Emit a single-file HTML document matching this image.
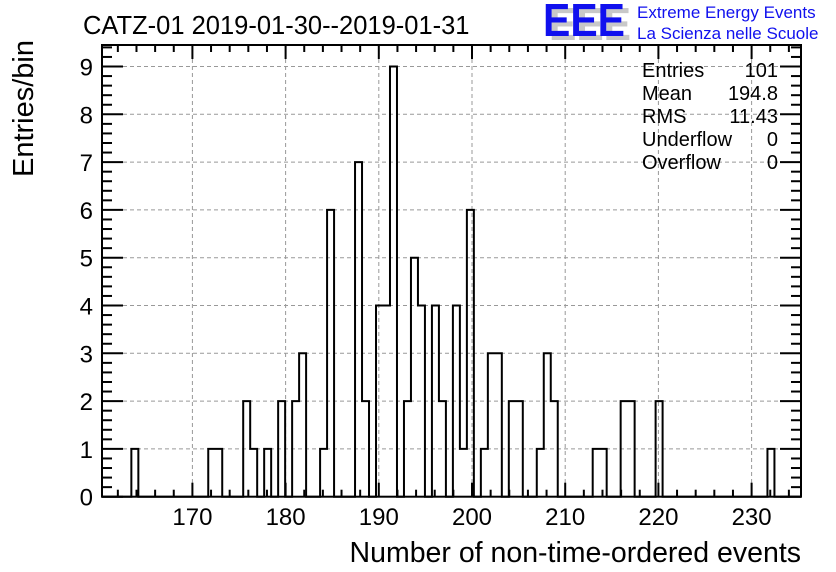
<!DOCTYPE html>
<html><head><meta charset="utf-8"><style>
body{margin:0;background:#fff;}
svg{display:block;font-family:"Liberation Sans",Arial,sans-serif;}
</style></head><body>
<svg id="chart" width="836" height="572" viewBox="0 0 836 572">
<g>
<text x="83" y="34" font-size="25.5">CATZ-01 2019-01-30--2019-01-31</text>
<g>
<text x="549" y="40" font-size="46" font-weight="bold" fill="#c8c8c8" textLength="82" lengthAdjust="spacingAndGlyphs">EEE</text>
<text x="543" y="36" font-size="46" font-weight="bold" fill="#1010ee" textLength="82" lengthAdjust="spacingAndGlyphs">EEE</text>
</g>
<text x="637" y="18" font-size="17" fill="#1010ee">Extreme Energy Events</text>
<text x="637" y="39" font-size="17" fill="#1010ee">La Scienza nelle Scuole</text>
</g>
<g id="grid"></g>
<g id="bars"></g>
<g id="axes"></g>
<g font-size="20">
<text x="642" y="77">Entries</text><text x="778" y="77" text-anchor="end">101</text>
<text x="642" y="100">Mean</text><text x="778" y="100" text-anchor="end">194.8</text>
<text x="642" y="123">RMS</text><text x="778" y="123" text-anchor="end">11.43</text>
<text x="642" y="146">Underflow</text><text x="778" y="146" text-anchor="end">0</text>
<text x="642" y="169">Overflow</text><text x="778" y="169" text-anchor="end">0</text>
</g>
<text x="801" y="562" font-size="28.5" text-anchor="end">Number of non-time-ordered events</text>
<text transform="translate(33,40) rotate(-90)" font-size="29" text-anchor="end">Entries/bin</text>
</svg>
<script>
const binStart = 160.45;
const binWidth = 0.75;
const binIndices = [4,15,16,20,21,23,25,27,28,31,32,36,37,39,40,41,43,44,45,47,48,50,51,52,54,55,56,58,59,62,63,64,70,71,74,75,79,95];
const binCounts  = [1,1,1,2,1,1,2,2,3,1,6,7,2,4,4,9,2,5,4,4,2,4,1,6,1,3,3,2,2,1,3,2,1,1,2,2,2,1];
const xTicks = [170,180,190,200,210,220,230];
const yTicks = [0,1,2,3,4,5,6,7,8,9];
const XMIN=160.3, XMAX=235.3, YMIN=0, YMAX=9.45;
const L=102,R=801,T=45,B=496.7;
const sx=v=>L+(v-XMIN)/(XMAX-XMIN)*(R-L);
const sy=v=>B-(v-YMIN)/(YMAX-YMIN)*(B-T);
const NS='http://www.w3.org/2000/svg';
function mk(tag,attrs,parent){const e=document.createElementNS(NS,tag);for(const k in attrs)e.setAttribute(k,attrs[k]);parent.appendChild(e);return e;}
const grid=document.getElementById('grid'),bars=document.getElementById('bars'),axes=document.getElementById('axes');
xTicks.forEach(t=>{const l=mk('line',{x1:sx(t),x2:sx(t),y1:T,y2:B,stroke:'#999','stroke-dasharray':'4,3','stroke-width':1},grid);
});
yTicks.forEach(t=>{if(t===0)return;const l=mk('line',{x1:L,x2:R,y1:sy(t),y2:sy(t),stroke:'#999','stroke-dasharray':'4,3','stroke-width':1},grid);
});
const counts={};binIndices.forEach((b,i)=>counts[b]=binCounts[i]);
const nb=Math.floor((XMAX-binStart)/binWidth);
let d='M'+L+','+B;let prev=0;
for(let k=0;k<nb;k++){const c=counts[k]||0;const x=sx(binStart+k*binWidth);if(c!==prev){d+=' L'+x+','+sy(prev)+' L'+x+','+sy(c);prev=c;}}
d+=' L'+R+','+sy(prev);
const p=mk('path',{d:d,fill:'none',stroke:'#000','stroke-width':2},bars);

binIndices.forEach((b,i)=>{const r=mk('rect',{x:sx(binStart+b*binWidth),y:sy(binCounts[i]),width:sx(binStart+binWidth)-sx(binStart),height:B-sy(binCounts[i]),fill:'none',stroke:'none'},bars);
});
const f=mk('rect',{x:L,y:T,width:R-L,height:B-T,fill:'none',stroke:'#000','stroke-width':2},axes);

for(let v=162;v<=XMAX;v+=2){const maj=(v%10===0);const len=maj?14:7;
mk('line',{x1:sx(v),x2:sx(v),y1:B,y2:B-len,stroke:'#000','stroke-width':2},axes);
mk('line',{x1:sx(v),x2:sx(v),y1:T,y2:T+len,stroke:'#000','stroke-width':2},axes);}
xTicks.forEach(t=>{const e=mk('text',{x:sx(t),y:525,'font-size':24,'text-anchor':'middle'},axes);e.textContent=t;
});
for(let i=0;i<=Math.floor(YMAX*5);i++){const v=i/5;const maj=(i%5===0);const len=maj?21:10;
mk('line',{x1:L,x2:L+len,y1:sy(v),y2:sy(v),stroke:'#000','stroke-width':2},axes);
mk('line',{x1:R,x2:R-len,y1:sy(v),y2:sy(v),stroke:'#000','stroke-width':2},axes);}
yTicks.forEach(t=>{const e=mk('text',{x:93,y:sy(t)+9,'font-size':24,'text-anchor':'end'},axes);e.textContent=t;
});
</script>
</body></html>
